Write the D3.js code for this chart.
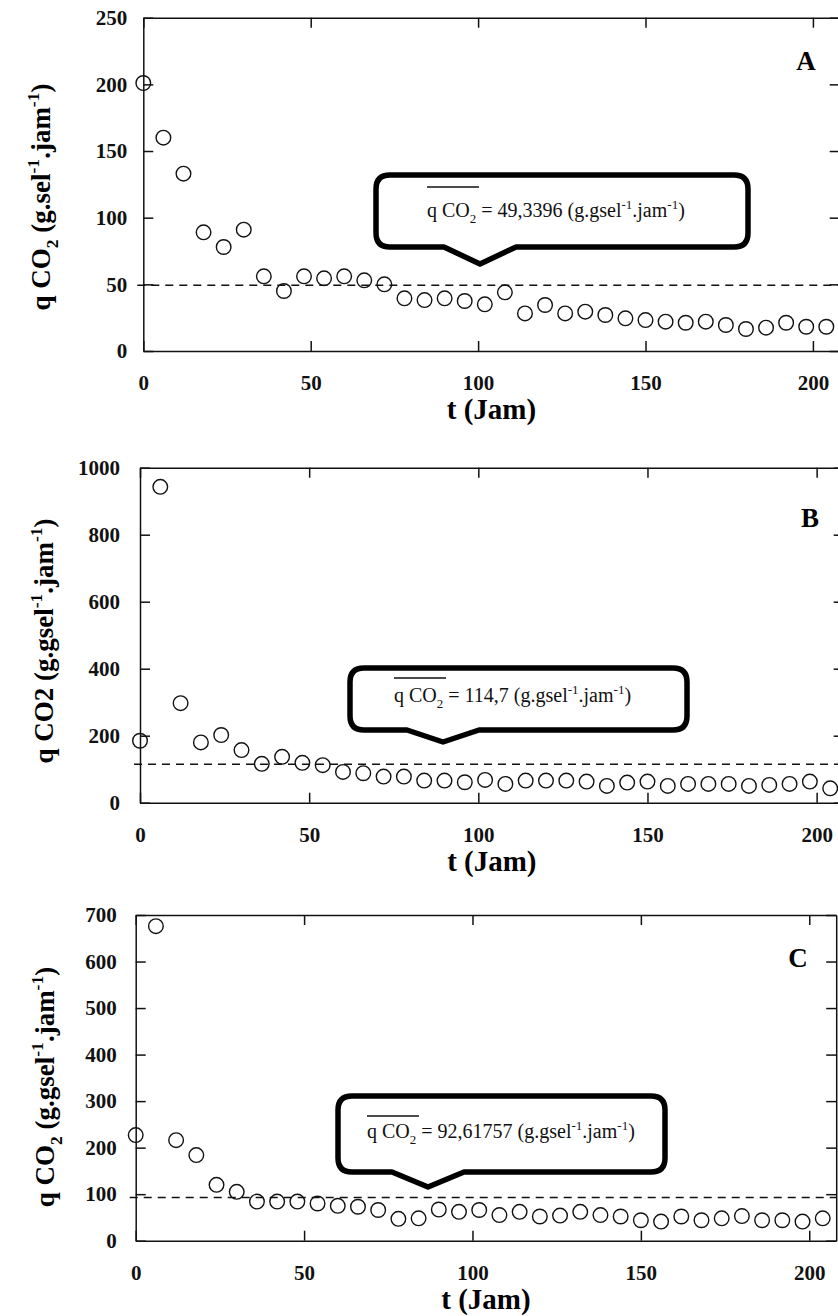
<!DOCTYPE html>
<html>
<head>
<meta charset="utf-8">
<script src="https://cdn.jsdelivr.net/npm/d3@7"></script>
<style>
  body { margin: 0; background: #fff; }
  svg { display: block; }
</style>
</head>
<body>
<svg id="chart" width="838" height="1316"></svg>
<script>
// sampling times (jam)
const hours = [0, 6, 12, 18, 24, 30, 36, 42, 48, 54, 60, 66, 72, 78, 84, 90, 96, 102,
  108, 114, 120, 126, 132, 138, 144, 150, 156, 162, 168, 174, 180, 186, 192, 198, 204];

// q CO2
const qA = [201, 160, 133, 89, 78, 91, 56, 45, 56, 54.5, 56, 53, 50, 39.5, 38.2, 39.5, 37.5, 35,
  44, 28.2, 34.5, 28.2, 29.5, 27, 24.5, 23.2, 22, 21.2, 22, 19.5, 16.5, 17.5, 21.2, 18.2, 18.2];
const qB = [185, 943, 297, 180, 202, 157, 116, 137, 119, 112, 92, 88, 78, 78, 66, 66, 61, 68,
  56, 66, 66, 66, 63, 50, 60, 63, 50, 56, 56, 56, 50, 53, 56, 63, 43];
const qC = [227, 676, 216, 184, 120, 105, 84, 84, 84, 80, 75, 73, 66, 47, 48, 67, 62, 66,
  55, 62, 52, 54, 62, 55, 52, 44, 41, 52, 44, 48, 53, 44, 44, 41, 48];

const means = [49.3396, 114.7, 92.61757];
const meanLabels = ["49,3396", "114,7", "92,61757"];
const panelLetters = ["A", "B", "C"];

const xTicks = [0, 50, 100, 150, 200];
const yTicksA = [0, 50, 100, 150, 200, 250];
const yTicksB = [0, 200, 400, 600, 800, 1000];
const yTicksC = [0, 100, 200, 300, 400, 500, 600, 700];

// y-axis titles, pieces marked as sub/superscript
const titleA = [["q CO"], ["2", "sub"], [" (g.sel"], ["-1", "sup"], [".jam"], ["-1", "sup"], [")"]];
const titleB = [["q CO2 (g.gsel"], ["-1", "sup"], [".jam"], ["-1", "sup"], [")"]];
const titleC = [["q CO"], ["2", "sub"], [" (g.gsel"], ["-1", "sup"], [".jam"], ["-1", "sup"], [")"]];

const xMax = 208;
const serif = '"Liberation Serif", "Times New Roman", Times, serif';

// layout for the three stacked panels
const panels = [
  { vals: qA, yTicks: yTicksA, title: titleA, left: 143.3, right: 839.7, top: 17.7, bottom: 351, pad: 16,
    titleX: 50, titleY: 197, letter: [806, 70],
    box: { x0: 376, x1: 748, y0: 175, y1: 247, tx: 480, ty: 264, w: 36 },
    note: { x: 427, y: 217, ol: 30 } },
  { vals: qB, yTicks: yTicksB, title: titleB, left: 140, right: 843.7, top: 467.7, bottom: 802.7, pad: 20,
    titleX: 53, titleY: 641, letter: [810, 527],
    box: { x0: 350, x1: 687, y0: 668, y1: 730, tx: 443, ty: 742, w: 36 },
    note: { x: 394, y: 702, ol: 24 } },
  { vals: qC, yTicks: yTicksC, title: titleC, left: 135.7, right: 836.2, top: 915, bottom: 1240.7, pad: 19,
    titleX: 54, titleY: 1087, letter: [798, 967],
    box: { x0: 338, x1: 665, y0: 1096, y1: 1172, tx: 428, ty: 1187, w: 36 },
    note: { x: 367, y: 1138, ol: 22 } }
];

const svg = d3.select("#chart");

function addPieces(text, pieces, size) {
  let shift = 0;
  pieces.forEach(([s, kind]) => {
    const target = kind === "sub" ? size * 0.3 : kind === "sup" ? -size * 0.4 : 0;
    text.append("tspan")
      .attr("dy", target - shift)
      .attr("font-size", kind ? size * 0.65 : size)
      .text(s);
    shift = target;
  });
}

function calloutPath(b) {
  const r = 14;
  return `M${b.x0 + r},${b.y0} L${b.x1 - r},${b.y0} Q${b.x1},${b.y0} ${b.x1},${b.y0 + r}
    L${b.x1},${b.y1 - r} Q${b.x1},${b.y1} ${b.x1 - r},${b.y1}
    L${b.tx + b.w},${b.y1} L${b.tx},${b.ty} L${b.tx - b.w},${b.y1}
    L${b.x0 + r},${b.y1} Q${b.x0},${b.y1} ${b.x0},${b.y1 - r}
    L${b.x0},${b.y0 + r} Q${b.x0},${b.y0} ${b.x0 + r},${b.y0} Z`;
}

panels.forEach((p, i) => {
  const x = d3.scaleLinear().domain([0, xMax]).range([p.left, p.right]);
  const y = d3.scaleLinear().domain([0, d3.max(p.yTicks)]).range([p.bottom, p.top]);
  const g = svg.append("g");

  // frame with inward ticks on all four sides
  const axes = [
    g.append("g").attr("transform", `translate(${p.left},0)`)
      .call(d3.axisLeft(y).tickValues(p.yTicks).tickSize(-10).tickSizeOuter(0).tickPadding(p.pad).tickFormat(d3.format("d"))),
    g.append("g").attr("transform", `translate(0,${p.bottom})`)
      .call(d3.axisBottom(x).tickValues(xTicks).tickSize(-10).tickSizeOuter(0).tickPadding(24).tickFormat(d3.format("d"))),
    g.append("g").attr("transform", `translate(0,${p.top})`)
      .call(d3.axisTop(x).tickValues(xTicks).tickSize(-10).tickSizeOuter(0).tickFormat("")),
    g.append("g").attr("transform", `translate(${p.right},0)`)
      .call(d3.axisRight(y).tickValues(p.yTicks).tickSize(-10).tickSizeOuter(0).tickFormat(""))
  ];
  axes.forEach(a => {
    a.selectAll(".domain, .tick line").attr("stroke", "#111").attr("stroke-width", 1.5);
    a.attr("font-family", serif).attr("font-size", 21).attr("font-weight", "bold");
    a.selectAll("text").attr("fill", "#111");
  });

  // mean line
  g.append("line")
    .attr("x1", p.left - 6).attr("x2", x(xMax))
    .attr("y1", y(means[i])).attr("y2", y(means[i]))
    .attr("stroke", "#111").attr("stroke-width", 1.5).attr("stroke-dasharray", "8,6");

  // observations
  g.append("g").selectAll("circle")
    .data(hours.map((h, k) => ({ h, v: p.vals[k] })))
    .join("circle")
    .attr("cx", d => x(d.h))
    .attr("cy", d => y(d.v))
    .attr("r", 7.3)
    .attr("fill", "none")
    .attr("stroke", "#111")
    .attr("stroke-width", 1.4);

  // callout with mean value
  g.append("path")
    .attr("d", calloutPath(p.box))
    .attr("fill", "none").attr("stroke", "#000")
    .attr("stroke-width", 5.5).attr("stroke-linejoin", "round");
  const note = g.append("text")
    .attr("x", p.note.x).attr("y", p.note.y)
    .attr("font-family", serif).attr("fill", "#111");
  addPieces(note, [["q CO"], ["2", "sub"], [" = " + meanLabels[i] + " (g.gsel"], ["-1", "sup"], [".jam"], ["-1", "sup"], [")"]], 20);
  g.append("line")
    .attr("x1", p.note.x).attr("x2", p.note.x + 52)
    .attr("y1", p.note.y - p.note.ol).attr("y2", p.note.y - p.note.ol)
    .attr("stroke", "#111").attr("stroke-width", 1.3);

  // panel letter
  g.append("text")
    .attr("x", p.letter[0]).attr("y", p.letter[1])
    .attr("text-anchor", "middle")
    .attr("font-family", serif).attr("font-weight", "bold").attr("font-size", 27)
    .text(panelLetters[i]);

  // axis titles
  g.append("text")
    .attr("x", (p.left + p.right) / 2).attr("y", p.bottom + 68)
    .attr("text-anchor", "middle")
    .attr("font-family", serif).attr("font-weight", "bold").attr("font-size", 29)
    .text("t (Jam)");
  const yt = g.append("text")
    .attr("transform", `translate(${p.titleX},${p.titleY}) rotate(-90)`)
    .attr("text-anchor", "middle")
    .attr("font-family", serif).attr("font-weight", "bold");
  addPieces(yt, p.title, 27);
});
</script>
</body>
</html>
